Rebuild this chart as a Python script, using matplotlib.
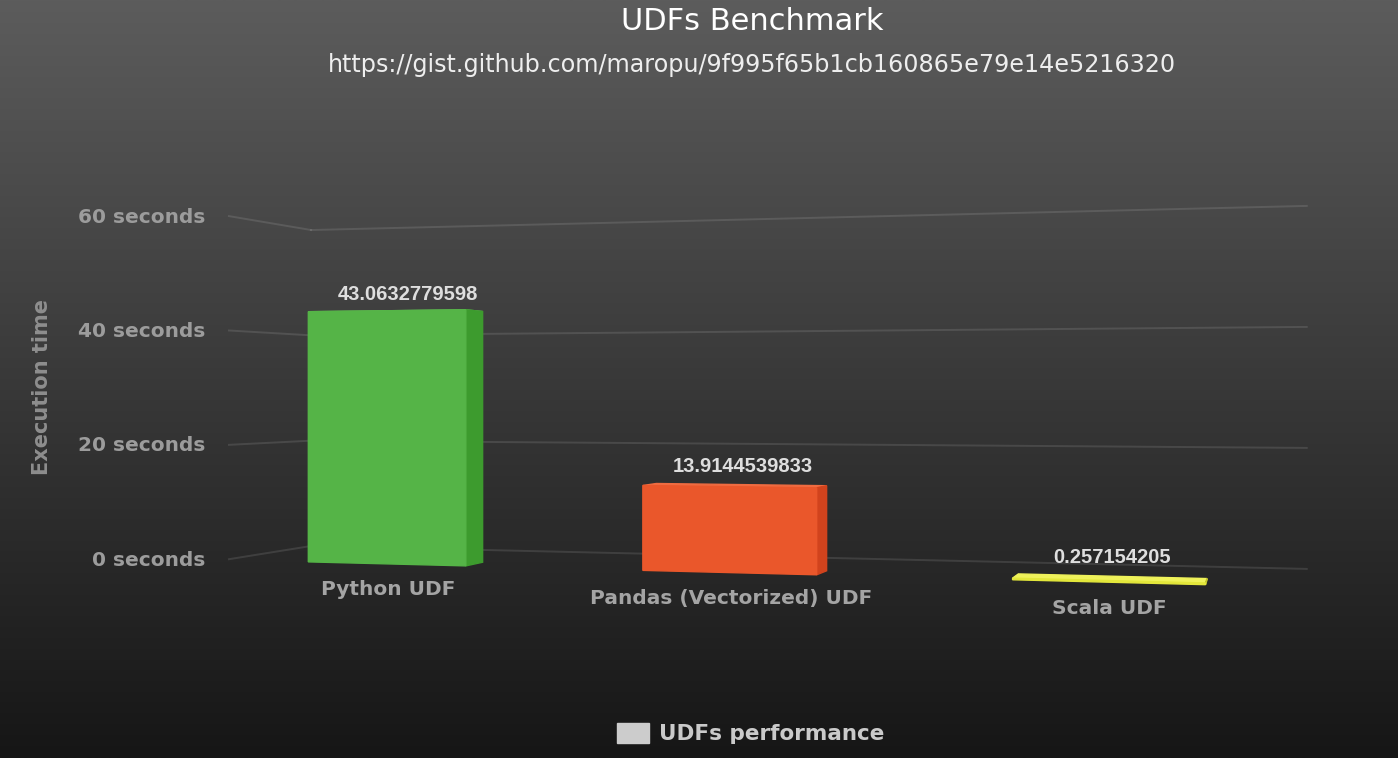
import numpy as np
import matplotlib
matplotlib.use("Agg")
import matplotlib.pyplot as plt
import matplotlib.transforms as mtransforms
from matplotlib.patches import Patch

# ---- data ----
categories = ["Python UDF", "Pandas (Vectorized) UDF", "Scala UDF"]
exec_seconds = [43.0632779598, 13.9144539833, 0.257154205]
value_labels = ["43.0632779598", "13.9144539833", "0.257154205"]
y_ticks = [0, 20, 40, 60]
y_tick_labels = ["0 seconds", "20 seconds", "40 seconds", "60 seconds"]

front_colors = ["#55b447", "#ea572b", "#e3e73b"]
side_colors = ["#3d9b2e", "#d1431d", "#c2c52a"]
top_colors = ["#6bc35d", "#f06b40", "#eff25a"]

# ---- 3D scene layout (Keynote-like perspective) ----
W, H = 1398, 758
FOCAL = 2007.0
CX, CY = 699.0, 392.0          # principal point / horizon
YAW = np.arctan2(0.2727, 0.962)
ORIGIN = (-0.1933, -0.07673, 1.0)   # back-left floor corner in camera space
UNIT_X, UNIT_Y, UNIT_Z = 0.1583, 0.002624, 0.0821

N_CAT = len(categories)
BAR_W = 0.483
BAR_SHIFT = 0.005
Z_BACK, Z_FRONT = 0.80, 1.04
LABEL_Z = 0.75


def project(X, Y, Z):
    X, Y, Z = np.broadcast_arrays(np.asarray(X, float), np.asarray(Y, float), np.asarray(Z, float))
    c, s = np.cos(YAW), np.sin(YAW)
    xc = ORIGIN[0] + X * UNIT_X * c - Z * UNIT_Z * s
    yc = ORIGIN[1] + Y * UNIT_Y
    zc = ORIGIN[2] - X * UNIT_X * s - Z * UNIT_Z * c
    return CX + FOCAL * xc / zc, CY - FOCAL * yc / zc


class PlaneToScreen(mtransforms.Transform):
    """Maps 2D coords lying on a plane of the 3D scene to screen pixels."""
    input_dims = 2
    output_dims = 2
    is_separable = False
    has_inverse = False

    def __init__(self, plane, level):
        super().__init__()
        self.plane = plane
        self.level = level

    def transform_non_affine(self, values):
        values = np.asarray(values, float)
        a, b = values[:, 0], values[:, 1]
        c = np.full_like(a, self.level)
        if self.plane == "xy":
            u, v = project(a, b, c)
        elif self.plane == "zy":
            u, v = project(c, b, a)
        else:  # "xz"
            u, v = project(a, c, b)
        return np.column_stack([u, v])


fig = plt.figure(figsize=(W / 100, H / 100), dpi=100)
ax = fig.add_axes([0, 0, 1, 1])
ax.set_autoscale_on(False)
ax.set_xlim(0, W)
ax.set_ylim(H, 0)
ax.axis("off")

# background gradient
grad = np.linspace(0, 1, 256)[:, None]
bg = np.array([0x5c, 0x5c, 0x5c]) / 255 * (1 - grad)[..., None] + np.array([0x16, 0x16, 0x16]) / 255 * grad[..., None]
bg = np.repeat(bg, 2, axis=1)
ax.imshow(bg, extent=[0, W, H, 0], aspect="auto", zorder=0)

# walls gridlines
back_wall = PlaneToScreen("xy", 0.0) + ax.transData
side_wall = PlaneToScreen("zy", 0.0) + ax.transData
for t in y_ticks:
    ax.plot([0, N_CAT], [t, t], transform=back_wall, color="white", alpha=0.11, lw=1.4, zorder=1)
    ax.plot([1.0, 0.0], [t, t], transform=side_wall, color="white", alpha=0.11, lw=1.4, zorder=1)

# bars
x_centers = np.arange(N_CAT) + 0.5 + BAR_SHIFT
for i, val in enumerate(exec_seconds):
    top = PlaneToScreen("xz", val) + ax.transData
    ax.bar([x_centers[i]], [Z_FRONT - Z_BACK], bottom=Z_BACK, width=BAR_W,
           color=top_colors[i], edgecolor=top_colors[i], lw=1, transform=top, zorder=3)
    side = PlaneToScreen("zy", x_centers[i] + BAR_W / 2) + ax.transData
    ax.bar([(Z_BACK + Z_FRONT) / 2], [val], width=Z_FRONT - Z_BACK,
           color=side_colors[i], edgecolor=side_colors[i], lw=1, transform=side, zorder=4)

front = PlaneToScreen("xy", Z_FRONT) + ax.transData
ax.bar(x_centers, exec_seconds, width=BAR_W, color=front_colors, edgecolor=front_colors,
       lw=1, transform=front, zorder=5)

# value labels
label_plane = PlaneToScreen("xy", LABEL_Z) + ax.transData
for i, val in enumerate(exec_seconds):
    ax.annotate(value_labels[i], xy=(x_centers[i], val), xycoords=label_plane,
                xytext=(0, 18), textcoords="offset pixels", ha="center", va="center",
                fontsize=14.5, fontweight="bold", family="Liberation Sans",
                color="#dedede", zorder=6)

# category labels
for i, name in enumerate(categories):
    ax.annotate(name, xy=(x_centers[i], 0), xycoords=front,
                xytext=(2, -26), textcoords="offset pixels", ha="center", va="center",
                fontsize=14.5, fontweight="bold", color="#a4a4a4", zorder=6)

# y tick labels on the side wall front edge
side_front = PlaneToScreen("zy", 0.0) + ax.transData
for t, lab in zip(y_ticks, y_tick_labels):
    ax.annotate(lab, xy=(1.0, t), xycoords=side_front,
                xytext=(-24, -1), textcoords="offset pixels", ha="right", va="center",
                fontsize=14.5, fontweight="bold", color="#9c9c9c", zorder=6)

ax.text(42, 387, "Execution time", rotation=90, ha="center", va="center",
        fontsize=15, fontweight="bold", color="#8e8e8e")

ax.text(752, 21, "UDFs Benchmark", ha="center", va="center", fontsize=22, color="white")
ax.text(752, 65, "https://gist.github.com/maropu/9f995f65b1cb160865e79e14e5216320",
        ha="center", va="center", fontsize=17.2, color="#eeeeee")

fig.legend(handles=[Patch(color="#cccccc")], labels=["UDFs performance"],
           loc="center", bbox_to_anchor=(0.537, 0.032), frameon=False,
           prop={"size": 15.5, "weight": "bold"}, labelcolor="#cacaca",
           handlelength=1.49, handleheight=1.07, handletextpad=0.5, borderpad=0)

fig.savefig("out.png", dpi=100)
